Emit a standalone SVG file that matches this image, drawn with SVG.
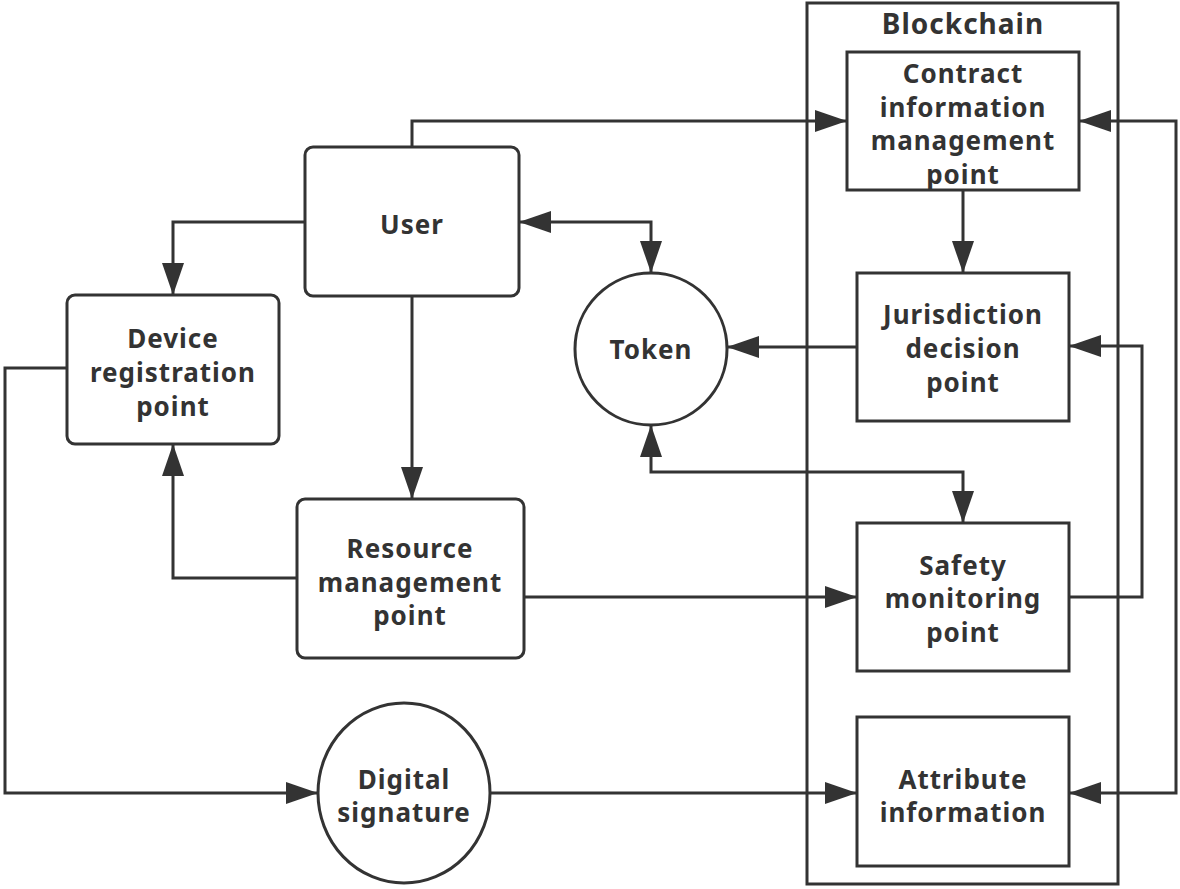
<svg xmlns="http://www.w3.org/2000/svg" width="1180" height="889" viewBox="0 0 1180 889">
<style>
.box{fill:#fff;stroke:#333;stroke-width:3}
.ln{fill:none;stroke:#333;stroke-width:3}
text{font-family:"Noto Sans","Open Sans",sans-serif;font-weight:700;font-size:26px;fill:#333;text-anchor:middle;letter-spacing:1px}
.title{font-size:28px}
</style>
<defs>
<marker id="ah" viewBox="0 0 32 22" refX="32" refY="11" markerWidth="32" markerHeight="22" markerUnits="userSpaceOnUse" orient="auto-start-reverse">
<path d="M0,0 L32,11 L0,22 Z" fill="#333"/>
</marker>
</defs>
<rect width="1180" height="889" fill="#fff"/>
<g id="blockchain">
<rect class="box" x="807" y="3" width="311" height="881" fill="none"/>
<text class="title" x="963" y="34">Blockchain</text>
</g>
<g id="connectors">
<path class="ln" d="M412,147 V121 H847" marker-end="url(#ah)"/>
<path class="ln" d="M305,222 H173 V295" marker-end="url(#ah)"/>
<path class="ln" d="M519,222 H651 V273" marker-start="url(#ah)" marker-end="url(#ah)"/>
<path class="ln" d="M412,296 V499" marker-end="url(#ah)"/>
<path class="ln" d="M297,578 H173 V444" marker-end="url(#ah)"/>
<path class="ln" d="M67,368 H5 V793 H318" marker-end="url(#ah)"/>
<path class="ln" d="M524,597 H857" marker-end="url(#ah)"/>
<path class="ln" d="M857,347 H727" marker-end="url(#ah)"/>
<path class="ln" d="M651,425 V472 H963 V523" marker-start="url(#ah)" marker-end="url(#ah)"/>
<path class="ln" d="M963,190 V273" marker-end="url(#ah)"/>
<path class="ln" d="M1069,597 H1142 V346 H1069" marker-end="url(#ah)"/>
<path class="ln" d="M1079,121 H1176 V793 H1069" marker-start="url(#ah)" marker-end="url(#ah)"/>
<path class="ln" d="M490,793 H857" marker-end="url(#ah)"/>
</g>
<g id="user">
<rect class="box" x="305" y="147" width="214" height="149" rx="8"/>
<text x="412" y="234">User</text>
</g>
<g id="device">
<rect class="box" x="67" y="295" width="212" height="149" rx="8"/>
<text x="173" y="348">Device</text>
<text x="173" y="382">registration</text>
<text x="173" y="416">point</text>
</g>
<g id="resource">
<rect class="box" x="297" y="499" width="227" height="159" rx="8"/>
<text x="410" y="558">Resource</text>
<text x="410" y="592">management</text>
<text x="410" y="625">point</text>
</g>
<g id="token">
<circle class="box" cx="651" cy="349" r="76"/>
<text x="651" y="359">Token</text>
</g>
<g id="digital">
<ellipse class="box" cx="404" cy="793" rx="86" ry="90"/>
<text x="404" y="789">Digital</text>
<text x="404" y="822">signature</text>
</g>
<g id="contract">
<rect class="box" x="847" y="52" width="232" height="138"/>
<text x="963" y="83">Contract</text>
<text x="963" y="117">information</text>
<text x="963" y="150">management</text>
<text x="963" y="184">point</text>
</g>
<g id="jurisdiction">
<rect class="box" x="857" y="273" width="212" height="148"/>
<text x="963" y="324">Jurisdiction</text>
<text x="963" y="358">decision</text>
<text x="963" y="392">point</text>
</g>
<g id="safety">
<rect class="box" x="857" y="523" width="212" height="148"/>
<text x="963" y="575">Safety</text>
<text x="963" y="608">monitoring</text>
<text x="963" y="642">point</text>
</g>
<g id="attribute">
<rect class="box" x="857" y="717" width="212" height="149"/>
<text x="963" y="789">Attribute</text>
<text x="963" y="822">information</text>
</g>
</svg>
